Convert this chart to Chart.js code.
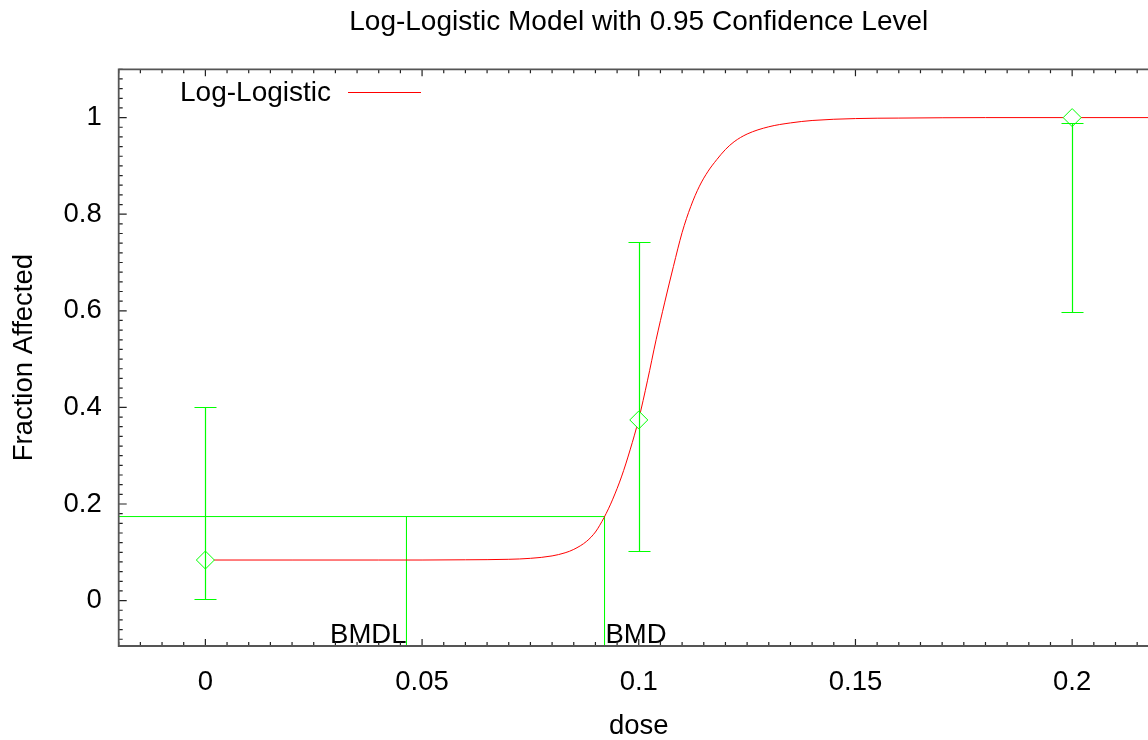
<!DOCTYPE html>
<html>
<head>
<meta charset="utf-8">
<title>Log-Logistic Model</title>
<script src="https://cdn.jsdelivr.net/npm/chart.js@4.4.1/dist/chart.umd.min.js"></script>
<style>
  html, body { margin: 0; padding: 0; overflow: hidden; background: #fff; }
  #wrap { width: 1148px; height: 740px; }
</style>
</head>
<body>
<div id="wrap"><canvas id="bmdChart" width="1148" height="740"></canvas></div>
<script>
// observed dose groups
const doses = [0, 0.1, 0.2];
const fractionAffected = [0.084, 0.374, 1.0];
const lowerCI = [0.004, 0.103, 0.598];
const upperCI = [0.401, 0.742, 0.989];

// fitted log-logistic curve
const curveDose = [0.002, 0.02, 0.04, 0.05, 0.06, 0.07, 0.075, 0.08, 0.083, 0.085, 0.088, 0.09,
  0.091, 0.092, 0.093, 0.094, 0.096, 0.098, 0.1, 0.102, 0.104, 0.106, 0.108, 0.11, 0.112,
  0.114, 0.116, 0.118, 0.12, 0.122, 0.125, 0.13, 0.135, 0.14, 0.15, 0.16, 0.18, 0.2, 0.22];
const curveFraction = [0.084, 0.084, 0.084, 0.084, 0.0845, 0.0855, 0.0875, 0.0925, 0.099, 0.106, 0.123, 0.142,
  0.156, 0.172, 0.190, 0.210, 0.256, 0.312, 0.376, 0.455, 0.540, 0.618, 0.692, 0.762, 0.816,
  0.858, 0.889, 0.913, 0.934, 0.950, 0.966, 0.981, 0.989, 0.994, 0.998, 0.999, 1.0, 1.0, 1.0];

// benchmark response / dose levels
const bmr = 0.174;
const bmd = 0.0921;
const bmdl = 0.0464;

// axes: the plot runs from -0.02 to 0.22, the window cuts it off near 0.2175
const xFullRange = [-0.02, 0.22];
const xRange = [-0.02, 0.2175];
const yRange = [-0.094, 1.1];
const xTickValues = [0, 0.05, 0.1, 0.15, 0.2];
const yTickValues = [0, 0.2, 0.4, 0.6, 0.8, 1];
const xMinorStep = 0.005;
const yMinorStep = 0.02;

const chartTitle = 'Log-Logistic Model with 0.95 Confidence Level';
const xTitle = 'dose';
const yTitle = 'Fraction Affected';

const GREEN = '#00ff00';
const RED = '#ff0000';
const FONT_SIZE = 27.5;
const FONT_FAMILY = '"Liberation Sans", Arial, Helvetica, sans-serif';

Chart.defaults.font.family = FONT_FAMILY;
Chart.defaults.font.size = FONT_SIZE;
Chart.defaults.color = '#000';

// error bars, frame with inward ticks, titles, BMD labels and the legend
const bmdDecor = {
  id: 'bmdDecor',
  afterDatasetsDraw(chart) {
    const { ctx, chartArea: a, scales: { x, y } } = chart;
    ctx.save();

    // error bars
    ctx.strokeStyle = GREEN;
    ctx.lineWidth = 1.2;
    doses.forEach((d, i) => {
      const px = Math.round(x.getPixelForValue(d)) + 0.5;
      const lo = Math.round(y.getPixelForValue(lowerCI[i])) + 0.5;
      const hi = Math.round(y.getPixelForValue(upperCI[i])) + 0.5;
      ctx.beginPath();
      ctx.moveTo(px, lo); ctx.lineTo(px, hi);
      ctx.moveTo(px - 11, lo); ctx.lineTo(px + 11, lo);
      ctx.moveTo(px - 11, hi); ctx.lineTo(px + 11, hi);
      ctx.stroke();
    });

    // BMDL / BMD labels
    ctx.fillStyle = '#000';
    ctx.font = FONT_SIZE + 'px ' + FONT_FAMILY;
    ctx.textBaseline = 'alphabetic';
    ctx.textAlign = 'right';
    ctx.fillText('BMDL', x.getPixelForValue(bmdl), a.bottom - 3);
    ctx.textAlign = 'left';
    ctx.fillText('BMD', x.getPixelForValue(bmd) + 1, a.bottom - 3);

    // inward ticks on bottom, top and left
    ctx.strokeStyle = '#222';
    ctx.lineWidth = 1.2;
    ctx.beginPath();
    for (let k = Math.ceil(xRange[0] / xMinorStep); k * xMinorStep <= xRange[1] + 1e-9; k++) {
      const px = x.getPixelForValue(k * xMinorStep);
      const len = k % 10 === 0 ? 7 : 4;
      ctx.moveTo(px, a.bottom); ctx.lineTo(px, a.bottom - len);
      ctx.moveTo(px, a.top); ctx.lineTo(px, a.top + len);
    }
    for (let k = Math.ceil(yRange[0] / yMinorStep); k * yMinorStep <= yRange[1] + 1e-9; k++) {
      const py = y.getPixelForValue(k * yMinorStep);
      const len = k % 10 === 0 ? 8 : 4;
      ctx.moveTo(a.left, py); ctx.lineTo(a.left + len, py);
    }
    ctx.stroke();

    // frame (right side lies outside the window)
    ctx.strokeStyle = '#555';
    ctx.lineWidth = 1.8;
    ctx.beginPath();
    ctx.moveTo(a.right + 2, a.top);
    ctx.lineTo(a.left, a.top);
    ctx.lineTo(a.left, a.bottom);
    ctx.lineTo(a.right + 2, a.bottom);
    ctx.stroke();

    // chart title and x title, centred on the full plot width
    const midX = x.getPixelForValue((xFullRange[0] + xFullRange[1]) / 2);
    ctx.textAlign = 'center';
    ctx.textBaseline = 'middle';
    ctx.font = '28px ' + FONT_FAMILY;
    ctx.fillText(chartTitle, midX, 22);
    ctx.font = FONT_SIZE + 'px ' + FONT_FAMILY;
    ctx.fillText(xTitle, midX, 726);

    // legend: label on the left, line sample on the right
    const curveSet = chart.data.datasets[1];
    ctx.font = '28px ' + FONT_FAMILY;
    ctx.textAlign = 'right';
    ctx.fillText(curveSet.label, 331, 93);
    ctx.strokeStyle = curveSet.borderColor;
    ctx.lineWidth = 1;
    ctx.beginPath();
    ctx.moveTo(348, 92.5); ctx.lineTo(421, 92.5);
    ctx.stroke();

    ctx.restore();
  }
};

const ctx = document.getElementById('bmdChart');
new Chart(ctx, {
  type: 'scatter',
  data: {
    datasets: [
      {
        label: 'Observed',
        data: doses.map((d, i) => ({ x: d, y: fractionAffected[i] })),
        pointStyle: 'rectRot',
        pointRadius: 9,
        pointBorderWidth: 1,
        pointBorderColor: GREEN,
        pointBackgroundColor: '#fff'
      },
      {
        label: 'Log-Logistic',
        data: curveDose.map((d, i) => ({ x: d, y: curveFraction[i] })),
        showLine: true,
        borderColor: RED,
        borderWidth: 1,
        pointRadius: 0,
        cubicInterpolationMode: 'monotone'
      },
      {
        label: 'BMD',
        data: [{ x: xRange[0], y: bmr }, { x: bmd, y: bmr }, { x: bmd, y: yRange[0] }],
        showLine: true,
        borderColor: GREEN,
        borderWidth: 1,
        pointRadius: 0
      },
      {
        label: 'BMDL',
        data: [{ x: bmdl, y: bmr }, { x: bmdl, y: yRange[0] }],
        showLine: true,
        borderColor: GREEN,
        borderWidth: 1,
        pointRadius: 0
      }
    ]
  },
  options: {
    responsive: false,
    animation: false,
    events: [],
    layout: { padding: { top: 69.3, left: 0, right: 0, bottom: 0 }, autoPadding: false },
    plugins: {
      legend: { display: false },
      tooltip: { enabled: false },
      title: { display: false }
    },
    scales: {
      x: {
        type: 'linear',
        min: xRange[0],
        max: xRange[1],
        afterBuildTicks: s => { s.ticks = xTickValues.map(v => ({ value: v })); },
        afterFit: s => {
          s.height = 94;
          s.paddingLeft = 0;
          s.paddingRight = 0;
        },
        grid: { display: false, drawTicks: false },
        border: { display: false },
        ticks: { padding: 20, maxRotation: 0, callback: v => String(v) },
        title: { display: false }
      },
      y: {
        type: 'linear',
        min: yRange[0],
        max: yRange[1],
        afterBuildTicks: s => { s.ticks = yTickValues.map(v => ({ value: v })); },
        afterFit: s => {
          s.width = 118.7;
          s.paddingTop = 0;
          s.paddingBottom = 0;
        },
        grid: { display: false, drawTicks: false },
        border: { display: false },
        ticks: { padding: 17, callback: v => String(v) },
        title: { display: true, text: yTitle, padding: { top: 8, bottom: 0 } }
      }
    }
  },
  plugins: [bmdDecor]
});
</script>
</body>
</html>
